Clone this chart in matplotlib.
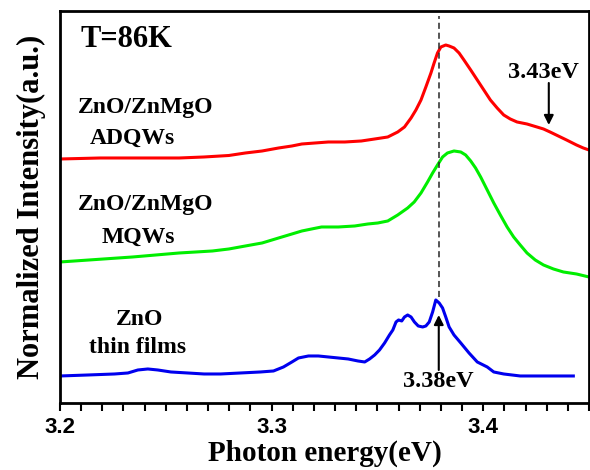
import matplotlib
matplotlib.use("Agg")
import matplotlib.pyplot as plt
from matplotlib.ticker import MultipleLocator

# photon energy (eV) / normalized PL intensity (a.u., curves offset)
adqw_e = [3.200, 3.219, 3.242, 3.2563, 3.2680, 3.2798, 3.2876, 3.2955, 3.3033,
          3.3096, 3.3143, 3.3205, 3.3268, 3.3346, 3.3424, 3.3487, 3.3549, 3.3596,
          3.3628, 3.3659, 3.3682, 3.3706, 3.3729, 3.3753, 3.3768, 3.3784, 3.3800,
          3.3823, 3.3839, 3.3862, 3.3886, 3.3909, 3.3941, 3.3972, 3.4003, 3.4034,
          3.4066, 3.4097, 3.4128, 3.4160, 3.4207, 3.4254, 3.4285, 3.4316, 3.4355,
          3.4394, 3.4441, 3.4473, 3.4500]
adqw_i = [2.44, 2.45, 2.45, 2.45, 2.46, 2.475, 2.50, 2.52, 2.55,
          2.57, 2.59, 2.60, 2.61, 2.61, 2.62, 2.64, 2.66, 2.71,
          2.76, 2.85, 2.93, 3.03, 3.16, 3.30, 3.40, 3.50, 3.56,
          3.58, 3.57, 3.55, 3.50, 3.43, 3.33, 3.23, 3.13, 3.03,
          2.95, 2.88, 2.84, 2.81, 2.79, 2.76, 2.74, 2.71, 2.67,
          2.63, 2.58, 2.55, 2.53]

mqw_e = [3.200, 3.2343, 3.2563, 3.2642, 3.2720, 3.2798, 3.2876, 3.2955, 3.3033,
         3.3096, 3.3143, 3.3189, 3.3236, 3.3315, 3.3393, 3.3455, 3.3502, 3.3549,
         3.3596, 3.3643, 3.3674, 3.3706, 3.3737, 3.3761, 3.3784, 3.3808, 3.3831,
         3.3862, 3.3894, 3.3917, 3.3941, 3.3964, 3.3988, 3.4019, 3.4050, 3.4081,
         3.4113, 3.4144, 3.4175, 3.4207, 3.4246, 3.4285, 3.4332, 3.4379, 3.4441,
         3.4500]
mqw_i = [1.41, 1.46, 1.50, 1.51, 1.52, 1.54, 1.57, 1.60, 1.65,
         1.69, 1.72, 1.74, 1.76, 1.76, 1.77, 1.79, 1.80, 1.82,
         1.88, 1.95, 2.01, 2.10, 2.21, 2.30, 2.38, 2.46, 2.50,
         2.52, 2.51, 2.48, 2.42, 2.35, 2.26, 2.13, 2.00, 1.88,
         1.76, 1.66, 1.58, 1.50, 1.43, 1.38, 1.34, 1.31, 1.29,
         1.26]

film_e = [3.2000, 3.2133, 3.2258, 3.2321, 3.2368, 3.2415, 3.2462, 3.2524, 3.2603,
          3.2681, 3.2759, 3.2853, 3.2947, 3.3009, 3.3056, 3.3096, 3.3127, 3.3174,
          3.3221, 3.3268, 3.3315, 3.3362, 3.3408, 3.3440, 3.3463, 3.3487, 3.3510,
          3.3534, 3.3557, 3.3573, 3.3588, 3.3600, 3.3615, 3.3628, 3.3643, 3.3659,
          3.3675, 3.3693, 3.3714, 3.3729, 3.3745, 3.3761, 3.3776, 3.3792, 3.3808,
          3.3823, 3.3839, 3.3862, 3.3894, 3.3933, 3.3972, 3.4019, 3.4050, 3.4097,
          3.4175, 3.4426]
film_i = [0.27, 0.28, 0.29, 0.30, 0.33, 0.34, 0.33, 0.31, 0.30,
          0.29, 0.29, 0.30, 0.31, 0.32, 0.36, 0.41, 0.45, 0.47,
          0.47, 0.46, 0.45, 0.44, 0.42, 0.41, 0.44, 0.48, 0.53,
          0.60, 0.68, 0.73, 0.81, 0.83, 0.82, 0.86, 0.88, 0.86,
          0.81, 0.77, 0.76, 0.77, 0.81, 0.91, 1.03, 1.00, 0.95,
          0.86, 0.76, 0.68, 0.60, 0.50, 0.41, 0.36, 0.31, 0.29,
          0.27, 0.27]

peak_main = 3.379
peak_high = 3.431

serif = "Liberation Serif"
sans = "Liberation Sans"

fig = plt.figure(figsize=(5.9, 4.7), dpi=100)
ax = fig.add_axes([0.1017, 0.1426, 0.8966, 0.834])

ax.plot(adqw_e, adqw_i, color="#ff0000", lw=2.2, solid_joinstyle="round")
ax.plot(mqw_e, mqw_i, color="#00ee00", lw=2.2, solid_joinstyle="round")
ax.plot(film_e, film_i, color="#0000ee", lw=2.2, solid_joinstyle="round")
ax.plot([peak_main, peak_main], [1.06, 3.87], color="0.15", lw=1.1, ls=(0, (4, 2.5)))

ax.set_xlim(3.2, 3.45)
ax.set_ylim(0, 3.92)
ax.xaxis.set_major_locator(MultipleLocator(0.1))
ax.xaxis.set_minor_locator(MultipleLocator(0.01))
ax.set_yticks([])
ax.tick_params(axis="x", which="both", direction="out", length=6, width=1.5, pad=4)
ax.set_xticks([3.2, 3.3, 3.4])
ax.set_xticklabels(["3.2", "3.3", "3.4"], fontfamily=sans, fontweight="bold", fontsize=16)
for side in ("left", "bottom", "top", "right"):
    ax.spines[side].set_linewidth(2.0)

ax.set_xlabel("Photon energy(eV)", fontfamily=serif, fontweight="bold", fontsize=21, labelpad=1)
ax.set_ylabel("Normalized Intensity(a.u.)", fontfamily=serif, fontweight="bold", fontsize=22, labelpad=10)

txt = dict(fontfamily=serif, fontweight="bold", ha="center", va="center")
ax.text(3.2315, 3.63, "T=86K", fontsize=22, **txt)
ax.text(3.2404, 2.95, "ZnO/ZnMgO", fontsize=17, **txt)
ax.text(3.2343, 2.65, "ADQWs", fontsize=17, **txt)
ax.text(3.2404, 1.98, "ZnO/ZnMgO", fontsize=17, **txt)
ax.text(3.2371, 1.66, "MQWs", fontsize=17, **txt)
ax.text(3.2376, 0.83, "ZnO", fontsize=17, **txt)
ax.text(3.2366, 0.55, "thin films", fontsize=17, **txt)

arrow = dict(arrowstyle="-|>", color="k", lw=1.5, mutation_scale=14, shrinkA=0, shrinkB=0)
ax.annotate("", xy=(peak_high, 2.78), xytext=(peak_high, 3.20), arrowprops=arrow)
ax.text(3.4285, 3.30, "3.43eV", fontsize=17.5, **txt)
ax.annotate("", xy=(peak_main, 0.88), xytext=(peak_main, 0.33), arrowprops=arrow)
ax.text(peak_main, 0.21, "3.38eV", fontsize=17.5, **txt)

fig.savefig("out.png", dpi=100)
plt.close(fig)
